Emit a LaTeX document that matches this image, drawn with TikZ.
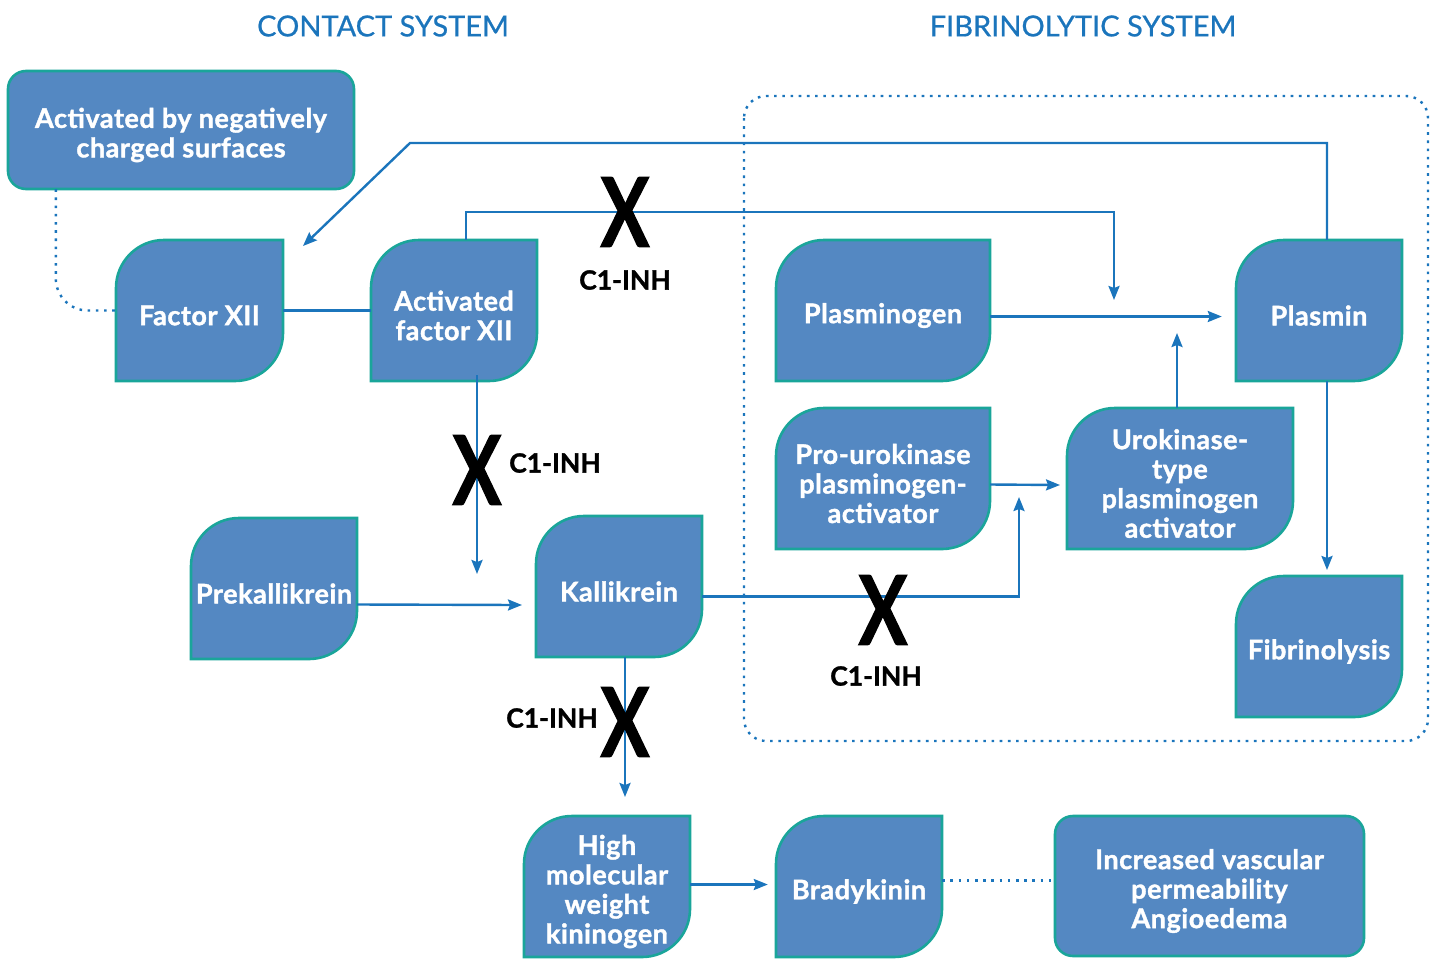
\documentclass[tikz,border=0pt]{standalone}
\usepackage{fontspec}
\setmainfont{Lato}
\newfontfamily\heavy{Lato}[FakeBold=1.4]
\newfontfamily\boxfont{Lato}[FakeBold=1.4, LetterSpace=2]
\newfontfamily\medium{Lato}[FakeBold=0.7]
\usetikzlibrary{arrows.meta}
\definecolor{boxfill}{HTML}{5488C2}
\definecolor{boxedge}{HTML}{1AA59A}
\definecolor{linkblue}{HTML}{1B75BC}
\tikzset{
  leafshape/.style={fill=boxfill, draw=boxedge, line width=2.6pt},
  leafnode/.style={draw=none, inner sep=0pt},
  leaftxt/.style={inner sep=0pt, align=center, text=white, yshift=-5pt,
    font=\boxfont\bfseries\fontsize{27}{29.5}\selectfont},
  conn/.style={draw=linkblue, line width=2.4pt},
  arr/.style={conn, -{Stealth[length=14pt,width=11pt,inset=2pt]}},
  dotline/.style={draw=linkblue, line width=2.4pt, dash pattern=on 2.6pt off 5.6pt},
  xmark/.style={inner sep=0pt, font=\heavy\bfseries\fontsize{96}{96}\selectfont, xscale=0.76, text=black},
  inh/.style={inner sep=0pt, font=\heavy\bfseries\fontsize{26.5}{30}\selectfont, text=black},
  title/.style={inner sep=0pt, text=linkblue, font=\medium\fontsize{29}{32}\selectfont}
}
\newcommand\leafbox[6]{%
  \path[leafshape] (#2,-#5) -- (#2,-#3-48) arc[start angle=180,end angle=90,radius=48]
    -- (#4,-#3) -- (#4,-#5+48) arc[start angle=0,end angle=-90,radius=48] -- cycle;
  \node[leafnode, minimum width={#4-#2}, minimum height={#5-#3},
    label={[leaftxt]center:#6}] (#1) at ({(#2+#4)/2},{-(#3+#5)/2}) {};
}
\newcommand\roundbox[6]{%
  \path[leafshape, rounded corners=18] (#2,-#3) rectangle (#4,-#5);
  \node[leafnode, minimum width={#4-#2}, minimum height={#5-#3},
    label={[leaftxt]center:#6}] (#1) at ({(#2+#4)/2},{-(#3+#5)/2}) {};
}
\begin{document}
\begin{tikzpicture}[x=1pt,y=1pt]
\useasboundingbox (0,0) rectangle (1439,-959);

% titles
\node[title] (t1) at (383,-26) {CONTACT SYSTEM};
\node[title] (t2) at (1083,-26) {FIBRINOLYTIC SYSTEM};

% dotted fibrinolytic frame
\draw[dotline, rounded corners=22] (744,-96) rectangle (1428,-741);

% boxes
\roundbox{neg}{8}{71}{354}{189}{Activated by negatively\\charged surfaces}
\leafbox{fxii}{116}{240}{283}{381}{Factor XII}
\leafbox{afxii}{371}{240}{537}{381}{Activated\\factor XII}
\leafbox{plg}{776}{240}{990}{381}{Plasminogen}
\leafbox{pls}{1236}{240}{1402}{381}{Plasmin}
\leafbox{prouk}{776}{408}{990}{549}{Pro-urokinase\\plasminogen-\\activator}
\leafbox{uk}{1067}{408}{1293}{549}{Urokinase-\\type\\plasminogen\\activator}
\leafbox{prek}{191}{518}{357}{659}{Prekallikrein}
\leafbox{kal}{536}{516}{702}{657}{Kallikrein}
\leafbox{fib}{1236}{576}{1402}{717}{Fibrinolysis}
\leafbox{hmwk}{524}{816}{690}{957}{High\\molecular\\weight\\kininogen}
\leafbox{brady}{776}{816}{942}{957}{Bradykinin}
\roundbox{ivp}{1055}{816}{1364}{956}{Increased vascular\\permeability\\Angioedema}

% free ends
\coordinate (plsA) at (410,-143);
\coordinate (plsB) at (303,-246);
\coordinate (afA) at (1114,-300);
\coordinate (afB) at (477,-574);
\coordinate (kalA) at (1019,-497);
\coordinate (kalB) at (625,-797);
\coordinate (prekA) at (522,-605);
\coordinate (ukA) at (1177,-333);
\coordinate (plsC) at (1327,-570);
\coordinate (proA) at (1060,-485);

% connectors
\draw[dotline, rounded corners=32] ([xshift=48]neg.south west) |- (fxii.west);
\draw[conn] (fxii.east) -- (afxii.west);
\draw[arr] ([xshift=8]pls.north) |- (plsA) -- (plsB);
\draw[arr] ([xshift=12]afxii.north) -- ++(0,28) -| (afA);
\draw[arr] ([yshift=-6]plg.east) -- ([yshift=-6,xshift=-14]pls.west);
\draw[arr] ([xshift=-3]uk.north) -- (ukA);
\draw[arr] ([xshift=8]pls.south) -- (plsC);
\draw[arr] ([yshift=-6]prouk.east) -- (proA);
\draw[arr] ([xshift=23,yshift=6]afxii.south) -- (afB);
\draw[arr] ([yshift=-16]prek.east) -- (prekA);
\draw[arr] ([yshift=-10]kal.east) -| (kalA);
\draw[arr] ([xshift=6]kal.south) -- (kalB);
\draw[arr, shorten >=8pt] ([yshift=2]hmwk.east) -- ([yshift=2]brady.west |- hmwk.east);
\draw[dotline, shorten >=4pt] ([yshift=6]brady.east) -- ([yshift=6]ivp.west |- brady.east);

% inhibition marks
\node[xmark] (x1) at (625,-212) {X};
\node[inh] (i1) at (625,-280) {C1-INH};
\node[xmark] (x2) at (477,-470) {X};
\node[inh] (i2) at (555,-463) {C1-INH};
\node[xmark] (x3) at (883,-610) {X};
\node[inh] (i3) at (876,-676) {C1-INH};
\node[xmark] (x4) at (625,-722) {X};
\node[inh] (i4) at (552,-718) {C1-INH};
\end{tikzpicture}
\end{document}
